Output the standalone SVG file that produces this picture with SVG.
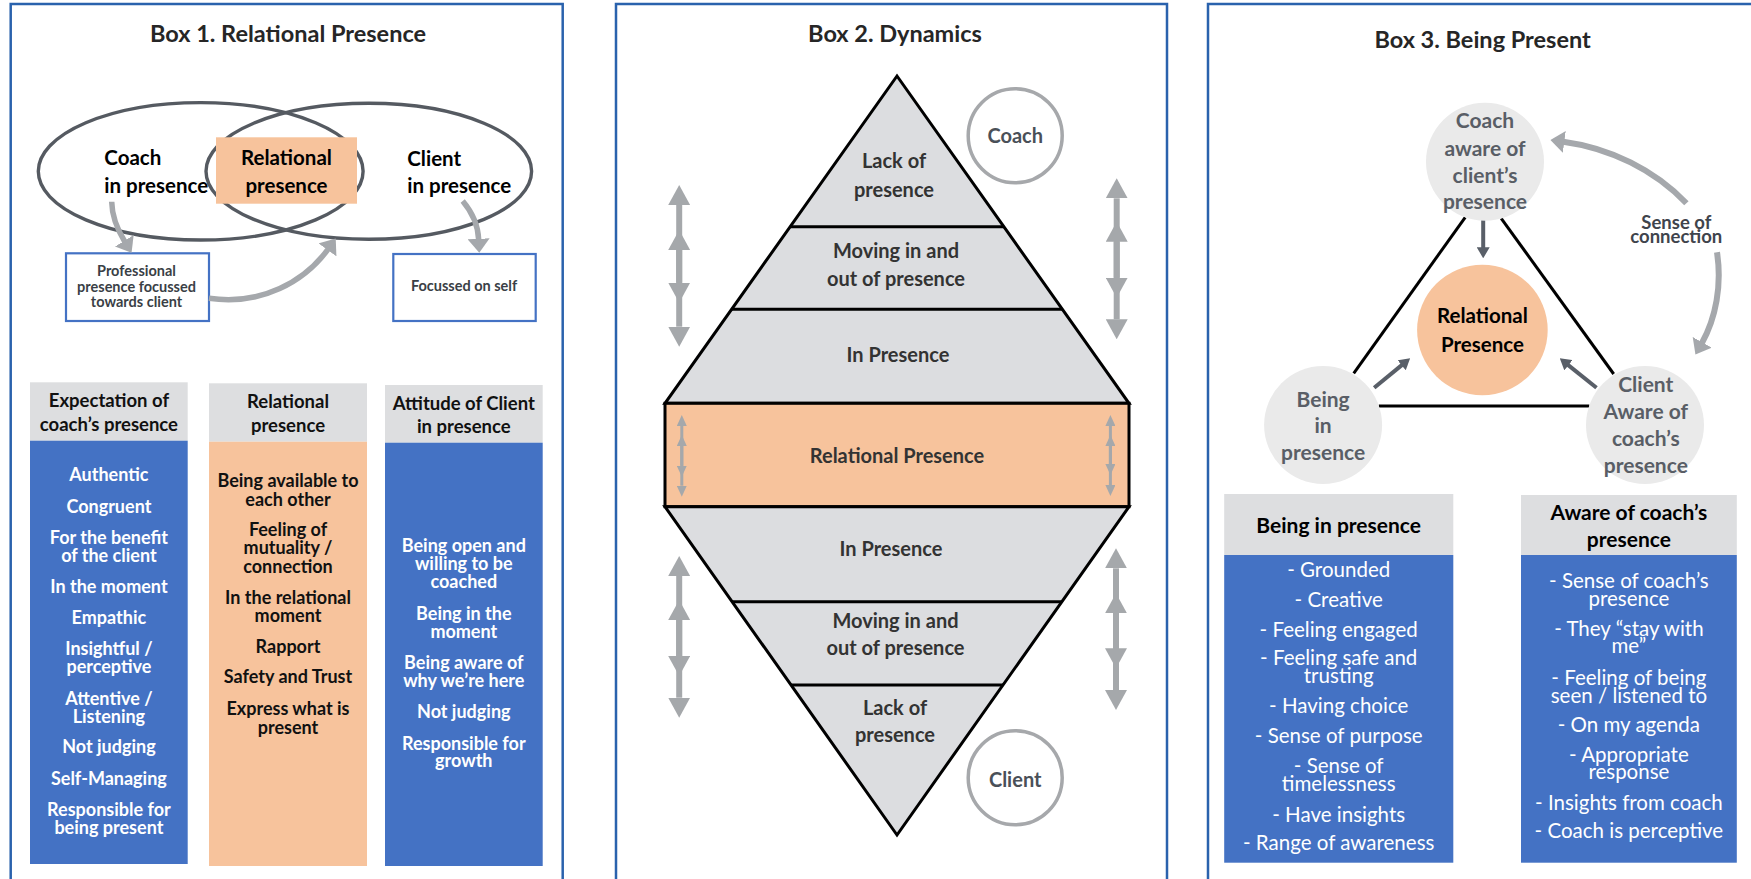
<svg xmlns="http://www.w3.org/2000/svg" width="1751" height="879" viewBox="0 0 1751 879">
  <defs>
    <style>
      text { font-family: Lato, "Liberation Sans", sans-serif; font-weight: 700; text-anchor: middle; }
      .frame { fill: #ffffff; stroke: #2A62AD; stroke-width: 2.5; }
      .title { font-size: 23.5px; fill: #262626; }
      .venn { fill: none; stroke: #555A61; stroke-width: 3.4; }
      .vlab { font-size: 20.5px; fill: #000000; }
      .note { fill: #ffffff; stroke: #4472C4; stroke-width: 2.2; }
      .ntxt { font-size: 14.5px; fill: #3A3F46; }
      .garrow { fill: none; stroke: #A5A8AC; stroke-width: 5.5; }
      .head { fill: #DDDEE0; }
      .blue { fill: #4472C4; }
      .peach { fill: #F7C39C; }
      .htxt { font-size: 18.5px; fill: #111111; }
      .wtxt { font-size: 18px; fill: #ffffff; }
      .ktxt { font-size: 18px; fill: #111111; }
      .tri { fill: #DCDDE0; stroke: #000000; stroke-width: 3; stroke-linejoin: miter; }
      .band { fill: #F7C39C; stroke: #000000; stroke-width: 3; }
      .div { stroke: #000000; stroke-width: 3; }
      .dtxt { font-size: 20px; fill: #333333; }
      .ring { fill: #ffffff; stroke: #A6A8AB; stroke-width: 3.5; }
      .rtxt { font-size: 20px; fill: #4A5058; }
      .dbl { fill: none; stroke: #A5A8AB; stroke-width: 6; marker-start: url(#dbl-head); marker-end: url(#dbl-head); }
      .dbls { fill: none; stroke: #A5A8AB; stroke-width: 3; marker-start: url(#dbl-small); marker-end: url(#dbl-small); }
      .bubble { fill: #EAEAEA; }
      .ctxt { font-size: 21px; fill: #595E66; }
      .edge { stroke: #000000; stroke-width: 3; }
      .darrow { fill: none; stroke: #595F68; stroke-width: 4; marker-end: url(#dark-head); }
      .ltxt { font-size: 20.5px; font-weight: 400; fill: #ffffff; }
      .b3h { font-size: 21px; fill: #000000; }
      .conn { font-size: 18.5px; fill: #3F444C; }
      .core { font-size: 20.5px; fill: #000000; }
    </style>
    <marker id="grey-head" viewBox="0 0 14 22" markerUnits="userSpaceOnUse" markerWidth="14" markerHeight="22" refX="1" refY="11" orient="auto">
      <path d="M0,0 L14,11 L0,22 z" fill="#A5A8AC"/>
    </marker>
    <marker id="dbl-head" viewBox="0 0 20 22" markerUnits="userSpaceOnUse" markerWidth="20" markerHeight="22" refX="0" refY="11" orient="auto-start-reverse">
      <path d="M0,0 L20,11 L0,22 z" fill="#A5A8AB"/>
    </marker>
    <marker id="dbl-small" viewBox="0 0 11 10" markerUnits="userSpaceOnUse" markerWidth="11" markerHeight="10" refX="0" refY="5" orient="auto-start-reverse">
      <path d="M0,0 L11,5 L0,10 z" fill="#A5A8AB"/>
    </marker>
    <marker id="dark-head" viewBox="0 0 11 13" markerUnits="userSpaceOnUse" markerWidth="11" markerHeight="13" refX="1" refY="6.5" orient="auto">
      <path d="M0,0 L11,6.5 L0,13 z" fill="#595F68"/>
    </marker>
  </defs>

  <rect width="1751" height="879" fill="#ffffff"/>

  <!-- ===== Box 1: Relational Presence ===== -->
  <g id="box1">
    <rect class="frame" x="10.7" y="4" width="552" height="900"/>
    <text class="title" x="288" y="42">Box 1. Relational Presence</text>
  </g>

  <g id="venn">
    <ellipse class="venn" cx="200.7" cy="171.3" rx="162.4" ry="68.7"/>
    <ellipse class="venn" cx="368.8" cy="171.3" rx="162.8" ry="68"/>
  </g>
  <g id="coach-in-presence">
    <text class="vlab" style="text-anchor:start"><tspan x="104.3" y="165">Coach</tspan><tspan x="104.3" y="193.3">in presence</tspan></text>
  </g>
  <g id="relational-presence-box">
    <rect class="peach" x="216" y="137.3" width="141" height="66.4"/>
    <text class="vlab"><tspan x="286.5" y="165">Relational</tspan><tspan x="286.5" y="193.3">presence</tspan></text>
  </g>
  <g id="client-in-presence">
    <text class="vlab" style="text-anchor:start"><tspan x="407.3" y="165.5">Client</tspan><tspan x="407.3" y="192.7">in presence</tspan></text>
  </g>
  <g id="professional-presence">
    <rect class="note" x="66" y="253.3" width="143" height="67.7"/>
    <text class="ntxt"><tspan x="136.5" y="276">Professional</tspan><tspan x="136.5" y="292">presence focussed</tspan><tspan x="136.5" y="306.7">towards client</tspan></text>
  </g>
  <g id="focussed-on-self">
    <rect class="note" x="393.3" y="254" width="142.4" height="67"/>
    <text class="ntxt" x="464" y="290.7">Focussed on self</text>
  </g>
  <g id="box1-connectors">
    <path class="garrow" d="M111.7,201.7 C112,219 119.5,233 124.8,241.7" marker-end="url(#grey-head)"/>
    <path class="garrow" d="M209,298.3 C262,306 305,281 328.1,249.1" marker-end="url(#grey-head)"/>
    <path class="garrow" d="M462.7,201 C472,212 478,224 478.7,239.8" marker-end="url(#grey-head)"/>
  </g>

  <g id="col-expectation">
    <rect class="head" x="30" y="382.3" width="157.7" height="58.4"/>
    <rect class="blue" x="30" y="440.7" width="157.7" height="423.3"/>
    <text class="htxt"><tspan x="108.9" y="406.7">Expectation of</tspan><tspan x="108.9" y="431">coach’s presence</tspan></text>
    <text class="wtxt" x="108.9" y="481">Authentic</text>
    <text class="wtxt" x="108.9" y="512.7">Congruent</text>
    <text class="wtxt"><tspan x="108.9" y="544">For the benefit</tspan><tspan x="108.9" y="562.3">of the client</tspan></text>
    <text class="wtxt" x="108.9" y="592.7">In the moment</text>
    <text class="wtxt" x="108.9" y="624">Empathic</text>
    <text class="wtxt"><tspan x="108.9" y="655">Insightful /</tspan><tspan x="108.9" y="673.3">perceptive</tspan></text>
    <text class="wtxt"><tspan x="108.9" y="705">Attentive /</tspan><tspan x="108.9" y="723.3">Listening</tspan></text>
    <text class="wtxt" x="108.9" y="753.3">Not judging</text>
    <text class="wtxt" x="108.9" y="785">Self-Managing</text>
    <text class="wtxt"><tspan x="108.9" y="815.5">Responsible for</tspan><tspan x="108.9" y="833.5">being present</tspan></text>
  </g>

  <g id="col-relational">
    <rect class="head" x="209" y="383.3" width="158" height="58.4"/>
    <rect class="peach" x="209" y="441.7" width="158" height="424.3"/>
    <text class="htxt"><tspan x="288" y="408.3">Relational</tspan><tspan x="288" y="431.7">presence</tspan></text>
    <text class="ktxt"><tspan x="288" y="487.3">Being available to</tspan><tspan x="288" y="505.7">each other</tspan></text>
    <text class="ktxt"><tspan x="288" y="536">Feeling of</tspan><tspan x="288" y="554">mutuality /</tspan><tspan x="288" y="572.7">connection</tspan></text>
    <text class="ktxt"><tspan x="288" y="604.3">In the relational</tspan><tspan x="288" y="621.7">moment</tspan></text>
    <text class="ktxt" x="288" y="653.3">Rapport</text>
    <text class="ktxt" x="288" y="683.3">Safety and Trust</text>
    <text class="ktxt"><tspan x="288" y="715">Express what is</tspan><tspan x="288" y="734">present</tspan></text>
  </g>

  <g id="col-attitude">
    <rect class="head" x="385" y="385" width="157.7" height="57.7"/>
    <rect class="blue" x="385" y="442.7" width="157.7" height="423.3"/>
    <text class="htxt"><tspan x="463.8" y="410">Attitude of Client</tspan><tspan x="463.8" y="433.3">in presence</tspan></text>
    <text class="wtxt"><tspan x="463.8" y="551.7">Being open and</tspan><tspan x="463.8" y="570">willing to be</tspan><tspan x="463.8" y="588.3">coached</tspan></text>
    <text class="wtxt"><tspan x="463.8" y="620">Being in the</tspan><tspan x="463.8" y="637.7">moment</tspan></text>
    <text class="wtxt"><tspan x="463.8" y="669.3">Being aware of</tspan><tspan x="463.8" y="686.7">why we’re here</tspan></text>
    <text class="wtxt" x="463.8" y="718.3">Not judging</text>
    <text class="wtxt"><tspan x="463.8" y="750">Responsible for</tspan><tspan x="463.8" y="767.3">growth</tspan></text>
  </g>

  <!-- ===== Box 2: Dynamics ===== -->
  <g id="box2">
    <rect class="frame" x="616" y="4" width="551" height="900"/>
    <text class="title" x="895" y="41.7">Box 2. Dynamics</text>
  </g>

  <g id="diamond-top">
    <polygon class="tri" points="897,76 1129,403.3 665,403.3"/>
    <line class="div" x1="790.2" y1="226.7" x2="1003.8" y2="226.7"/>
    <line class="div" x1="731.6" y1="309.3" x2="1062.4" y2="309.3"/>
    <text class="dtxt"><tspan x="894" y="168.3">Lack of</tspan><tspan x="894" y="196.7">presence</tspan></text>
    <text class="dtxt"><tspan x="896" y="258.3">Moving in and</tspan><tspan x="896" y="286">out of presence</tspan></text>
    <text class="dtxt" x="898" y="361.7">In Presence</text>
  </g>
  <g id="diamond-middle">
    <rect class="band" x="665" y="403.3" width="464" height="103.4"/>
    <text class="dtxt" x="897" y="462.7">Relational Presence</text>
  </g>
  <g id="diamond-bottom">
    <polygon class="tri" points="665,506.7 1129,506.7 897,835"/>
    <line class="div" x1="732.1" y1="601.7" x2="1061.9" y2="601.7"/>
    <line class="div" x1="791" y1="685" x2="1003" y2="685"/>
    <text class="dtxt" x="891" y="556">In Presence</text>
    <text class="dtxt"><tspan x="895.5" y="628.3">Moving in and</tspan><tspan x="895.5" y="655">out of presence</tspan></text>
    <text class="dtxt"><tspan x="895" y="715">Lack of</tspan><tspan x="895" y="741.7">presence</tspan></text>
  </g>
  <g id="coach-ring">
    <circle class="ring" cx="1015.2" cy="135.7" r="47"/>
    <text class="rtxt" x="1015.2" y="143.3">Coach</text>
  </g>
  <g id="client-ring">
    <circle class="ring" cx="1015.2" cy="777.7" r="47"/>
    <text class="rtxt" x="1015.2" y="786.7">Client</text>
  </g>
  <g id="box2-connectors">
    <path class="dbl" d="M679.2,205 L679.2,282.7"/>
    <path class="dbl" d="M679.2,250 L679.2,326.7"/>
    <path class="dbl" d="M1116.7,198.3 L1116.7,277.7"/>
    <path class="dbl" d="M1116.7,241.7 L1116.7,319.3"/>
    <path class="dbl" d="M679.2,576 L679.2,656"/>
    <path class="dbl" d="M679.2,620 L679.2,697.7"/>
    <path class="dbl" d="M1116,568.3 L1116,648.3"/>
    <path class="dbl" d="M1116,613.3 L1116,690"/>
    <path class="dbls" d="M681.8,426 L681.8,465.7"/>
    <path class="dbls" d="M681.8,446 L681.8,485.7"/>
    <path class="dbls" d="M1110.4,426 L1110.4,464"/>
    <path class="dbls" d="M1110.4,446 L1110.4,485"/>
  </g>

  <!-- ===== Box 3: Being Present ===== -->
  <g id="box3">
    <rect class="frame" x="1208" y="4" width="600" height="900"/>
    <text class="title" x="1482.6" y="48.3">Box 3. Being Present</text>
  </g>

  <g id="box3-connectors">
    <line class="edge" x1="1465.2" y1="217.3" x2="1353.7" y2="373.3"/>
    <line class="edge" x1="1501.2" y1="218.3" x2="1613.7" y2="374"/>
    <line class="edge" x1="1378.8" y1="406" x2="1589.3" y2="406"/>
    <path class="darrow" d="M1483.2,220 L1483.2,248.3"/>
    <path class="darrow" d="M1374.2,387.7 L1402.4,364.6"/>
    <path class="darrow" d="M1596.5,387.7 L1567.6,364.6"/>
    <path class="garrow" style="stroke-width:6" d="M1686.4,203.3 C1655,170 1610,148 1563.3,141.7" marker-end="url(#grey-head)"/>
    <path class="garrow" style="stroke-width:6" d="M1717,252.3 C1722,285 1716,318 1701.8,343.2" marker-end="url(#grey-head)"/>
    <text class="conn"><tspan x="1676.3" y="229.3">Sense of</tspan><tspan x="1676.3" y="243.3">connection</tspan></text>
  </g>

  <g id="coach-aware">
    <circle class="bubble" cx="1485" cy="161.7" r="59"/>
    <text class="ctxt"><tspan x="1485" y="128.3">Coach</tspan><tspan x="1485" y="156">aware of</tspan><tspan x="1485" y="182.7">client’s</tspan><tspan x="1485" y="209.3">presence</tspan></text>
  </g>
  <g id="being-in-presence">
    <circle class="bubble" cx="1323.1" cy="425" r="59"/>
    <text class="ctxt"><tspan x="1323.1" y="406.7">Being</tspan><tspan x="1323.1" y="433.3">in</tspan><tspan x="1323.1" y="460">presence</tspan></text>
  </g>
  <g id="client-aware">
    <circle class="bubble" cx="1645" cy="425" r="59"/>
    <text class="ctxt"><tspan x="1645.8" y="391.7">Client</tspan><tspan x="1645.8" y="419.3">Aware of</tspan><tspan x="1645.8" y="446">coach’s</tspan><tspan x="1645.8" y="473.3">presence</tspan></text>
  </g>
  <g id="relational-core">
    <circle class="peach" cx="1482.4" cy="330" r="65.3"/>
    <text class="core"><tspan x="1482.4" y="323.3">Relational</tspan><tspan x="1482.4" y="351.7">Presence</tspan></text>
  </g>

  <g id="list-being">
    <rect class="head" x="1224.2" y="494" width="229.1" height="61"/>
    <rect class="blue" x="1224.2" y="555" width="229.1" height="307.7"/>
    <text class="b3h" x="1338.7" y="533.3">Being in presence</text>
    <text class="ltxt" x="1338.7" y="576.7">- Grounded</text>
    <text class="ltxt" x="1338.7" y="606.7">- Creative</text>
    <text class="ltxt" x="1338.7" y="636.7">- Feeling engaged</text>
    <text class="ltxt"><tspan x="1338.7" y="665">- Feeling safe and</tspan><tspan x="1338.7" y="682.7">trusting</tspan></text>
    <text class="ltxt" x="1338.7" y="713.3">- Having choice</text>
    <text class="ltxt" x="1338.7" y="743.3">- Sense of purpose</text>
    <text class="ltxt"><tspan x="1338.7" y="772.7">- Sense of</tspan><tspan x="1338.7" y="791">timelessness</tspan></text>
    <text class="ltxt" x="1338.7" y="821.7">- Have insights</text>
    <text class="ltxt" x="1338.7" y="850">- Range of awareness</text>
  </g>

  <g id="list-aware">
    <rect class="head" x="1521" y="495" width="215.8" height="60"/>
    <rect class="blue" x="1521" y="555" width="215.8" height="307.7"/>
    <text class="b3h"><tspan x="1628.9" y="520">Aware of coach’s</tspan><tspan x="1628.9" y="546.7">presence</tspan></text>
    <text class="ltxt"><tspan x="1628.9" y="588.3">- Sense of coach’s</tspan><tspan x="1628.9" y="606">presence</tspan></text>
    <text class="ltxt"><tspan x="1628.9" y="636">- They “stay with</tspan><tspan x="1628.9" y="653.3">me”</tspan></text>
    <text class="ltxt"><tspan x="1628.9" y="685">- Feeling of being</tspan><tspan x="1628.9" y="702.7">seen / listened to</tspan></text>
    <text class="ltxt" x="1628.9" y="731.7">- On my agenda</text>
    <text class="ltxt"><tspan x="1628.9" y="761.7">- Appropriate</tspan><tspan x="1628.9" y="779.3">response</tspan></text>
    <text class="ltxt" x="1628.9" y="810">- Insights from coach</text>
    <text class="ltxt" x="1628.9" y="838.3">- Coach is perceptive</text>
  </g>
</svg>
